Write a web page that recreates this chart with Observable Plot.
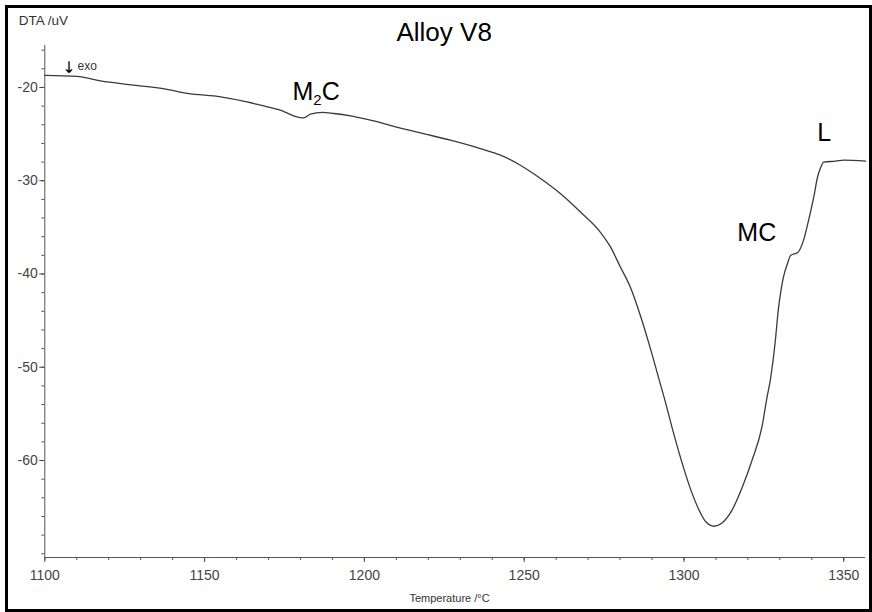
<!DOCTYPE html>
<html><head><meta charset="utf-8">
<script src="https://cdn.jsdelivr.net/npm/d3@7"></script>
<script src="https://cdn.jsdelivr.net/npm/@observablehq/plot@0.6"></script>
<style>
body{margin:0;background:#fff;}
#wrap{position:relative;width:872px;height:612px;overflow:hidden;background:#fff;}
#border{position:absolute;left:5px;top:5px;right:0;bottom:0;border:3px solid #000;pointer-events:none;box-sizing:border-box;}
#wrap svg{position:absolute;left:0;top:0;}
</style></head><body><div id="wrap"><div id="border"></div></div>
<script>
// Temperature (°C) and DTA signal (uV)
const temperature = [1100, 1110, 1117.4, 1127.8, 1138.3, 1144.6, 1155, 1163.3, 1167.5, 1173.7,
  1179.5, 1181, 1183.1, 1186.8, 1190.4, 1195.7, 1200.9, 1205, 1211.3, 1219.1,
  1226.9, 1236.3, 1242.6, 1248.8, 1255.1, 1261.3, 1267.6, 1273.8, 1277, 1280.1,
  1283.2, 1286.3, 1289.5, 1292.2, 1294.4, 1296.3, 1299.1, 1302.2, 1304.7, 1306.9,
  1309.4, 1311.9, 1315.0, 1318.2, 1321.3, 1324.4, 1326, 1327, 1328.6, 1329.5,
  1330.2, 1331.1, 1332.4, 1333.4, 1335.6, 1337.4, 1339, 1340.6, 1341.8, 1342.8,
  1343.7, 1347.5, 1350, 1356.8];
const dta = [-18.7, -18.8, -19.3, -19.75, -20.2, -20.64, -21.0, -21.55, -21.9, -22.44,
  -23.2, -23.26, -22.86, -22.68, -22.79, -23.05, -23.43, -23.76, -24.37, -25.0,
  -25.65, -26.55, -27.26, -28.34, -29.76, -31.37, -33.35, -35.5, -37.1, -39.25,
  -41.4, -44.4, -48.0, -51.3, -54.0, -56.5, -59.9, -63.2, -65.3, -66.6,
  -67.05, -66.7, -65.35, -62.9, -59.98, -56.4, -53.2, -51.4, -47.1, -43.9,
  -42.1, -40.37, -38.87, -38.0, -37.7, -36.4, -34.24, -31.77, -29.6, -28.55,
  -28.0, -27.9, -27.8, -27.9];

const xTicks = [1100, 1150, 1200, 1250, 1300, 1350];
const yTicks = [-60, -50, -40, -30, -20];
const xMinorTicks = d3.range(1100, 1357, 10);
const yMinorTicks = d3.range(-70, -15, 2);
const xDomain = [1100, 1356.8];
const yDomain = [-70.4, -15.5];

const peakLabels = ["M2C", "MC", "L"];
const peakLabelT = [1177.5, 1316.7, 1341.7];
const peakLabelV = [-20.5, -35.6, -24.9];

const title = "Alloy V8";
const yLabel = "DTA /uV";
const xLabel = "Temperature /°C";
const exoArrow = "↓";
const exoText = "exo";

const data = temperature.map((t, i) => ({t, v: dta[i]}));
const labelData = peakLabels.map((s, i) => ({s, t: peakLabelT[i], v: peakLabelV[i]}));

const chart = Plot.plot({
  width: 872, height: 612,
  marginLeft: 44.3, marginRight: 7, marginTop: 45, marginBottom: 55,
  x: {domain: xDomain},
  y: {domain: yDomain},
  style: {fontFamily: "'Liberation Sans', Arial, sans-serif", background: "transparent", overflow: "visible"},
  marks: [
    Plot.axisY(yMinorTicks, {tickSize: 3, tickFormat: () => "", color: "#555", label: null}),
    Plot.axisX(xMinorTicks, {tickSize: 3, tickFormat: () => "", color: "#555", label: null}),
    Plot.axisY(yTicks, {tickSize: 5, tickPadding: 2, tickFormat: d => String(d), fontSize: 14, color: "#444", label: null}),
    Plot.axisX(xTicks, {tickSize: 5, tickPadding: 8, tickFormat: d => String(d), fontSize: 14, color: "#444", label: null}),
    Plot.ruleX([xDomain[0]], {stroke: "#555"}),
    Plot.ruleY([yDomain[0]], {stroke: "#555"}),
    Plot.line(data, {x: "t", y: "v", stroke: "#3a3a3a", strokeWidth: 1.3, curve: "monotone-x"}),
    Plot.text(labelData, {x: "t", y: "v", text: "s", textAnchor: "start", lineAnchor: "middle", fontSize: 25, fill: "#000"}),
    Plot.text([title], {frameAnchor: "top", lineAnchor: "middle", dx: -11, dy: -13, fontSize: 26, fill: "#000"}),
    Plot.text([yLabel], {frameAnchor: "top-left", textAnchor: "start", lineAnchor: "middle", dx: -26, dy: -25, fontSize: 13.5, fill: "#333"}),
    Plot.text([exoArrow], {frameAnchor: "top-left", textAnchor: "start", lineAnchor: "middle", dx: 17.5, dy: 22, fontSize: 16, fontFamily: "DejaVu Sans", fill: "#000"}),
    Plot.text([exoText], {frameAnchor: "top-left", textAnchor: "start", lineAnchor: "middle", dx: 32.7, dy: 20.5, fontSize: 12, fill: "#333"}),
    Plot.text([xLabel], {frameAnchor: "bottom", lineAnchor: "middle", dx: -5.6, dy: 41, fontSize: 11, fill: "#333"})
  ]
});

d3.select(chart).selectAll("text").filter(function() { return this.textContent === "M2C"; }).each(function() {
  const t = d3.select(this);
  t.text(null);
  t.append("tspan").text("M");
  t.append("tspan").attr("font-size", 15).attr("dy", 5).text("2");
  t.append("tspan").attr("dy", -5).text("C");
});

document.getElementById("wrap").insertBefore(chart, document.getElementById("border"));
</script>
</body></html>
